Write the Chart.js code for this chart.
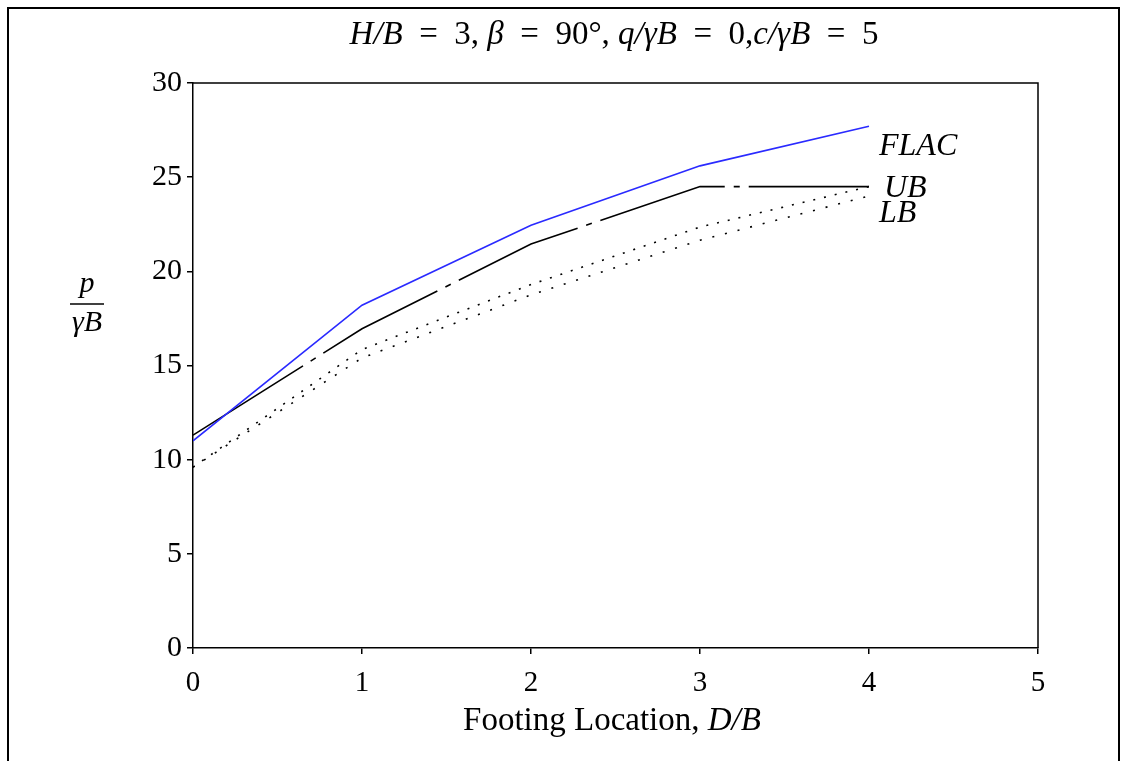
<!DOCTYPE html>
<html>
<head>
<meta charset="utf-8">
<script src="https://cdn.jsdelivr.net/npm/chart.js@4"></script>
<style>
  html, body { margin: 0; padding: 0; background: #fff; }
  #wrap { width: 1127px; height: 761px; position: relative; }
</style>
</head>
<body>
<div id="wrap"><canvas id="c" width="1127" height="761"></canvas></div>
<script>
// ---- data ----
const footingLocation = [0, 1, 2, 3, 4];
const flacValues      = [11.0, 18.2, 22.45, 25.6, 27.7];
const ubValues        = [11.3, 16.95, 21.45, 24.5, 24.5];
const lbUpperValues   = [9.6, 15.85, 19.3, 22.35, 24.5];
const lbValues        = [9.6, 15.4, 18.75, 21.65, 24.0];
const xTicks = [0, 1, 2, 3, 4, 5];
const yTicks = [0, 5, 10, 15, 20, 25, 30];
const seriesLabels = ['FLAC', 'UB', 'LB'];

const SERIF = '"Liberation Serif", "DejaVu Serif", serif';

function pts(ys) { return footingLocation.map((x, i) => ({ x: x, y: ys[i] })); }

function drawRich(ctx, segs, x, y, size, align) {
  let total = 0;
  segs.forEach(s => {
    ctx.font = (s[1] ? 'italic ' : '') + size + 'px ' + SERIF;
    total += ctx.measureText(s[0]).width;
  });
  let cx = align === 'center' ? x - total / 2 : x;
  ctx.textAlign = 'left';
  ctx.textBaseline = 'alphabetic';
  segs.forEach(s => {
    ctx.font = (s[1] ? 'italic ' : '') + size + 'px ' + SERIF;
    ctx.fillText(s[0], cx, y);
    cx += ctx.measureText(s[0]).width;
  });
}

const decor = {
  id: 'decor',
  afterDraw(chart) {
    const ctx = chart.ctx;
    const a = chart.chartArea;
    ctx.save();
    ctx.strokeStyle = '#000';
    // plot box (top/right)
    ctx.lineWidth = 1.5;
    ctx.beginPath();
    ctx.moveTo(a.left, a.top);
    ctx.lineTo(a.right, a.top);
    ctx.lineTo(a.right, a.bottom);
    ctx.stroke();
    // outer frame
    ctx.lineWidth = 2;
    ctx.beginPath();
    ctx.moveTo(8, 770);
    ctx.lineTo(8, 8);
    ctx.lineTo(1119, 8);
    ctx.lineTo(1119, 770);
    ctx.stroke();
    ctx.fillStyle = '#000';
    // title
    drawRich(ctx, [['H/B', true], ['  =  3, ', false], ['β', true], ['  =  90°, ', false],
                   ['q/γB', true], ['  =  0,', false], ['c/γB', true], ['  =  5', false]],
             614, 44, 33, 'center');
    // x axis title
    drawRich(ctx, [['Footing Location, ', false], ['D/B', true]], 612, 730, 33, 'center');
    // y axis title as fraction
    ctx.font = 'italic 30px ' + SERIF;
    ctx.textAlign = 'center';
    ctx.fillText('p', 87, 292);
    ctx.fillText('γB', 87, 331);
    ctx.lineWidth = 1.5;
    ctx.beginPath();
    ctx.moveTo(70, 304);
    ctx.lineTo(104, 304);
    ctx.stroke();
    // series labels
    ctx.textAlign = 'left';
    ctx.font = 'italic 32px ' + SERIF;
    ctx.fillText(seriesLabels[0], 879, 155);
    ctx.fillText(seriesLabels[1], 884, 197);
    ctx.fillText(seriesLabels[2], 879, 222);
    ctx.restore();
  }
};

new Chart(document.getElementById('c'), {
  type: 'line',
  data: {
    datasets: [
      { label: seriesLabels[0], data: pts(flacValues), borderColor: '#2a2aff', borderWidth: 1.6,
        pointRadius: 0, tension: 0, fill: false },
      { label: seriesLabels[1], data: pts(ubValues), borderColor: '#000', borderWidth: 1.6,
        borderDash: [130, 9, 6, 9], pointRadius: 0, tension: 0, fill: false },
      { label: seriesLabels[2] + ' (upper)', data: pts(lbUpperValues), borderColor: '#000', borderWidth: 1.6,
        borderDash: [2, 9], pointRadius: 0, tension: 0, fill: false },
      { label: seriesLabels[2], data: pts(lbValues), borderColor: '#000', borderWidth: 1.6,
        borderDash: [2, 11], pointRadius: 0, tension: 0, fill: false }
    ]
  },
  options: {
    responsive: false,
    animation: false,
    devicePixelRatio: 1,
    layout: { padding: { left: 0, top: 83, right: 89, bottom: 0 } },
    plugins: { legend: { display: false }, title: { display: false }, tooltip: { enabled: false } },
    scales: {
      x: {
        type: 'linear', min: 0, max: 5,
        afterBuildTicks(s) { s.ticks = xTicks.map(v => ({ value: v })); },
        afterFit(s) { s.height = 113; },
        grid: { drawOnChartArea: false, drawTicks: true, tickLength: 6, color: '#000', lineWidth: 1.5 },
        border: { display: true, color: '#000', width: 1.5 },
        ticks: { color: '#000', padding: 12, font: { family: SERIF, size: 29 } }
      },
      y: {
        min: 0, max: 30,
        afterBuildTicks(s) { s.ticks = yTicks.map(v => ({ value: v })); },
        afterFit(s) { s.width = 193; },
        grid: { drawOnChartArea: false, drawTicks: true, tickLength: 6, color: '#000', lineWidth: 1.5 },
        border: { display: true, color: '#000', width: 1.5 },
        ticks: { color: '#000', padding: 5, font: { family: SERIF, size: 30 } }
      }
    }
  },
  plugins: [decor]
});
</script>
</body>
</html>
